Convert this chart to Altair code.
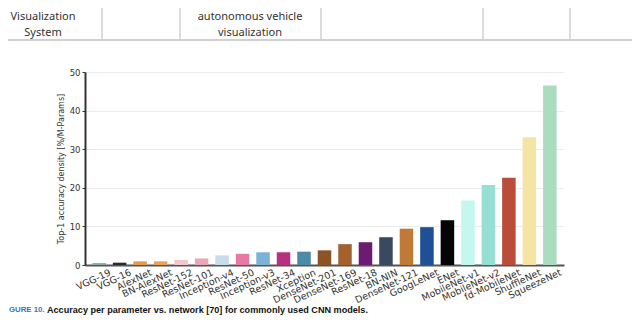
import altair as alt
import pandas as pd

networks = ["VGG-19", "VGG-16", "AlexNet", "BN-AlexNet", "ResNet-152", "ResNet-101",
            "Inception-v4", "ResNet-50", "Inception-v3", "ResNet-34", "Xception",
            "DenseNet-201", "DenseNet-169", "ResNet-18", "BN-NIN", "DenseNet-121",
            "GoogLeNet", "ENet", "MobileNet-v1", "MobileNet-v2", "fd-MobileNet",
            "ShuffleNet", "SqueezeNet"]
density = [0.5, 0.6, 0.95, 0.95, 1.3, 1.7, 2.5, 2.9, 3.3, 3.3, 3.45, 3.8, 5.4,
           5.9, 7.2, 9.4, 9.8, 11.6, 16.7, 20.7, 22.6, 33.1, 46.5]
colors = ["#86ad97", "#2b2b2b", "#e59c4e", "#e9a45c", "#f4c6cc", "#eaa7b7",
          "#c9dcee", "#e57aa4", "#7cb1d8", "#b7317f", "#4d8aa3", "#8b5326",
          "#a2612d", "#6b1b70", "#384a5e", "#c07a38", "#1f4f94", "#050505",
          "#c4f7ee", "#97dfd4", "#b94c3b", "#f5e4a4", "#acdcc0"]
y_ticks = [0, 10, 20, 30, 40, 50]

table_lines_x = [17, 95, 236, 398, 485]

df = pd.DataFrame({"network": networks, "density": density})
one = pd.DataFrame({"k": [0]})

bars = alt.Chart(df).mark_bar().encode(
    x=alt.X("network:N", sort=networks,
            scale=alt.Scale(paddingInner=0.34, paddingOuter=0.36),
            axis=alt.Axis(title=None, labelAngle=-25, labelAlign="right", labelBaseline="top",
                          labelFontSize=9.5, labelColor="#333", labelFont="DejaVu Sans",
                          ticks=False, domainColor="#555", domainWidth=2, labelPadding=2,
                          labelOffset=9, grid=False)),
    y=alt.Y("density:Q", scale=alt.Scale(domain=[0, 50], nice=False),
            axis=alt.Axis(values=y_ticks, title="Top-1 accuracy density [%/M-Params]",
                          titleFontSize=8, titleFontWeight="normal", titleColor="#333",
                          titleFont="DejaVu Sans", titlePadding=4,
                          labelFontSize=8.5, labelColor="#333", labelFont="DejaVu Sans",
                          tickSize=3, tickColor="#333", labelPadding=2,
                          domainColor="#333", domainWidth=2, gridColor="#ebebeb")),
    color=alt.Color("network:N", scale=alt.Scale(domain=networks, range=colors), legend=None),
)

layers = [bars]

# table remnants at top
for xv in table_lines_x:
    layers.append(alt.Chart(one).mark_rule(color="#d0d0d0", strokeWidth=1.5).encode(
        x=alt.value(xv), y=alt.value(-72), y2=alt.value(-32)))
layers.append(alt.Chart(one).mark_rule(color="#d0d0d0", strokeWidth=2).encode(
    x=alt.value(-85), x2=alt.value(555), y=alt.value(-32)))

table_texts = [("Visualization", -42, -55), ("System", -42, -39),
               ("autonomous vehicle", 165, -55), ("visualization", 165, -39)]
for t, xv, yv in table_texts:
    layers.append(alt.Chart(one).mark_text(text=t, font="Noto Sans", fontSize=11,
                                           color="#333", align="center", baseline="middle").encode(
        x=alt.value(xv), y=alt.value(yv)))

# caption
layers.append(alt.Chart(one).mark_text(text="GURE 10.", font="Liberation Sans", fontSize=7.8,
                                       fontWeight="bold", color="#3a74bd", align="left",
                                       baseline="middle").encode(
    x=alt.value(-76), y=alt.value(238)))
layers.append(alt.Chart(one).mark_text(
    text="Accuracy per parameter vs. network [70] for commonly used CNN models.",
    font="Liberation Sans", fontSize=9.1, fontWeight="bold", color="#111", align="left",
    baseline="middle").encode(x=alt.value(-38), y=alt.value(238)))

chart = alt.layer(*layers).properties(
    width=479, height=193,
    padding={"left": 77, "top": 64, "right": 68, "bottom": 53},
    autosize=alt.AutoSizeParams(type="none"),
    background="white",
).configure_view(stroke=None)

chart.save("out.html", embed_options={"renderer": "svg", "actions": False})
